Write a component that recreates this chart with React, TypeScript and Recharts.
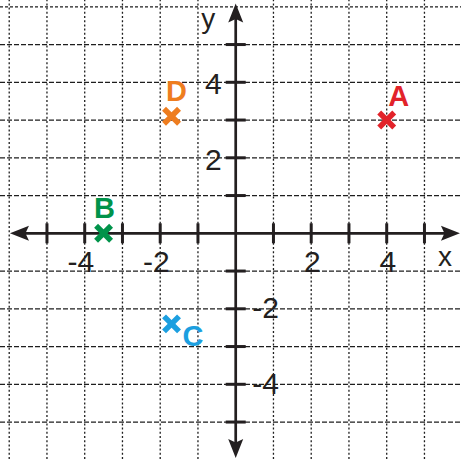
import React from 'react';
import { ScatterChart, Scatter, XAxis, YAxis, ReferenceLine } from 'recharts';

// ---- data ----
const X_GRID = [-6, -5, -4, -3, -2, -1, 1, 2, 3, 4, 5];
const Y_GRID = [-5, -4, -3, -2, -1, 1, 2, 3, 4, 5, 6];
const X_TICK_MARKS = [-5, -4, -3, -2, -1, 1, 2, 3, 4, 5];
const Y_TICK_MARKS = [-5, -4, -3, -2, -1, 1, 2, 3, 4, 5];
const X_TICK_LABELS = [-4, -2, 2, 4];
const Y_TICK_LABELS = [4, 2, -2, -4];
const POINT_NAMES = ['A', 'B', 'C', 'D'];
const POINT_X = [4, -3.5, -1.7, -1.7];
const POINT_Y = [3, 0, -2.4, 3.1];
const X_DOMAIN: [number, number] = [-6.244, 5.968];
const Y_DOMAIN: [number, number] = [-5.979, 6.18];
const X_AXIS_SPAN = [-5.98, 5.94];
const Y_AXIS_SPAN = [-5.95, 6.09];

// ---- styles ----
const W = 461;
const H = 459;
const FONT = '"Liberation Sans", Arial, Helvetica, sans-serif';
const INK = '#231f20';
const GRID = '#1e1e1e';
const POINT_COLORS: Record<string, string> = {
  A: '#e2232a',
  B: '#00934a',
  C: '#1c9fe0',
  D: '#ee7d1f',
};
const LABEL_OFFSETS: Record<string, [number, number]> = {
  A: [12, -14.5],
  B: [1, -15],
  C: [21.5, 22],
  D: [5, -15],
};

const pointData = POINT_NAMES.map((name, i) => ({ x: POINT_X[i], y: POINT_Y[i], name }));
const xTickMarkData = X_TICK_MARKS.map((v) => ({ x: v, y: 0 }));
const yTickMarkData = Y_TICK_MARKS.map((v) => ({ x: 0, y: v }));
const xTickLabelData = X_TICK_LABELS.map((v) => ({ x: v, y: 0, label: String(v) }));
const yTickLabelData = Y_TICK_LABELS.map((v) => ({ x: 0, y: v, label: String(v) }));
const xNameData = [{ x: 5, y: 0, label: 'x' }];
const yNameData = [{ x: 0, y: 5, label: 'y' }];

function Arrow({ x, y, dx, dy }: { x: number; y: number; dx: number; dy: number }) {
  const len = 19;
  const half = 7.5;
  const notch = 3.5;
  const bx = x - dx * len;
  const by = y - dy * len;
  const px = -dy;
  const py = dx;
  const nx = x - dx * (len - notch);
  const ny = y - dy * (len - notch);
  const pts = [
    [x, y],
    [bx + px * half, by + py * half],
    [nx, ny],
    [bx - px * half, by - py * half],
  ]
    .map((p) => p.join(','))
    .join(' ');
  return <polygon points={pts} fill={INK} />;
}

function AxisShape(props: any) {
  const { x1, y1, x2, y2 } = props;
  const L = Math.hypot(x2 - x1, y2 - y1) || 1;
  const dx = (x2 - x1) / L;
  const dy = (y2 - y1) / L;
  return (
    <g>
      <line
        x1={x1 + dx * 12}
        y1={y1 + dy * 12}
        x2={x2 - dx * 12}
        y2={y2 - dy * 12}
        stroke={INK}
        strokeWidth={2.7}
      />
      <Arrow x={x1} y={y1} dx={-dx} dy={-dy} />
      <Arrow x={x2} y={y2} dx={dx} dy={dy} />
    </g>
  );
}

const XTickMark = (p: any) => (
  <line x1={p.cx} y1={p.cy - 10} x2={p.cx} y2={p.cy + 10} stroke={INK} strokeWidth={3} />
);
const YTickMark = (p: any) => (
  <line x1={p.cx - 10} y1={p.cy} x2={p.cx + 10} y2={p.cy} stroke={INK} strokeWidth={3} />
);
const XTickLabel = (p: any) => (
  <text x={p.cx + 9.5} y={p.cy + 38.7} textAnchor="end" fontFamily={FONT} fontSize={30} fill={INK}>
    {p.payload.label}
  </text>
);
const YTickLabel = (p: any) => {
  const positive = p.payload.y > 0;
  return (
    <text
      x={positive ? p.cx - 14 : p.cx + 16.5}
      y={positive ? p.cy + 12 : p.cy + 9.5}
      textAnchor={positive ? 'end' : 'start'}
      fontFamily={FONT}
      fontSize={30}
      fill={INK}
    >
      {p.payload.label}
    </text>
  );
};
const XName = (p: any) => (
  <text x={p.cx + 13.5} y={p.cy + 33} textAnchor="start" fontFamily={FONT} fontSize={28} fill={INK}>
    {p.payload.label}
  </text>
);
const YName = (p: any) => (
  <text x={p.cx - 34.5} y={p.cy - 17} textAnchor="start" fontFamily={FONT} fontSize={28} fill={INK}>
    {p.payload.label}
  </text>
);
const PointShape = (p: any) => {
  const name = p.payload.name;
  const color = POINT_COLORS[name];
  const [ox, oy] = LABEL_OFFSETS[name];
  const s = 7.5;
  return (
    <g>
      <line x1={p.cx - s} y1={p.cy - s} x2={p.cx + s} y2={p.cy + s} stroke={color} strokeWidth={5.5} />
      <line x1={p.cx - s} y1={p.cy + s} x2={p.cx + s} y2={p.cy - s} stroke={color} strokeWidth={5.5} />
      <text
        x={p.cx + ox}
        y={p.cy + oy}
        textAnchor="middle"
        fontFamily={FONT}
        fontWeight="bold"
        fontSize={29}
        fill={color}
      >
        {name}
      </text>
    </g>
  );
};

export default function App() {
  return (
    <div style={{ position: 'absolute', left: 0, top: 0, width: W, height: H, background: '#fff' }}>
      <ScatterChart width={W} height={H} margin={{ top: 0, right: 0, bottom: 0, left: 0 }}>
        <XAxis type="number" dataKey="x" domain={X_DOMAIN} allowDataOverflow hide />
        <YAxis type="number" dataKey="y" domain={Y_DOMAIN} allowDataOverflow hide />
        {X_GRID.map((v) => (
          <ReferenceLine
            key={'gx' + v}
            x={v}
            stroke={GRID}
            strokeWidth={1.3}
            strokeDasharray="2 2.2"
          />
        ))}
        {Y_GRID.map((v) => (
          <ReferenceLine
            key={'gy' + v}
            y={v}
            stroke={GRID}
            strokeWidth={1.3}
            strokeDasharray={v === 6 ? '3 2' : '5 2'}
          />
        ))}
        <ReferenceLine
          segment={[
            { x: X_AXIS_SPAN[0], y: 0 },
            { x: X_AXIS_SPAN[1], y: 0 },
          ]}
          shape={AxisShape}
        />
        <ReferenceLine
          segment={[
            { x: 0, y: Y_AXIS_SPAN[1] },
            { x: 0, y: Y_AXIS_SPAN[0] },
          ]}
          shape={AxisShape}
        />
        <Scatter data={xTickMarkData} shape={XTickMark} isAnimationActive={false} />
        <Scatter data={yTickMarkData} shape={YTickMark} isAnimationActive={false} />
        <Scatter data={xTickLabelData} shape={XTickLabel} isAnimationActive={false} />
        <Scatter data={yTickLabelData} shape={YTickLabel} isAnimationActive={false} />
        <Scatter data={xNameData} shape={XName} isAnimationActive={false} />
        <Scatter data={yNameData} shape={YName} isAnimationActive={false} />
        <Scatter data={pointData} shape={PointShape} isAnimationActive={false} />
      </ScatterChart>
    </div>
  );
}
